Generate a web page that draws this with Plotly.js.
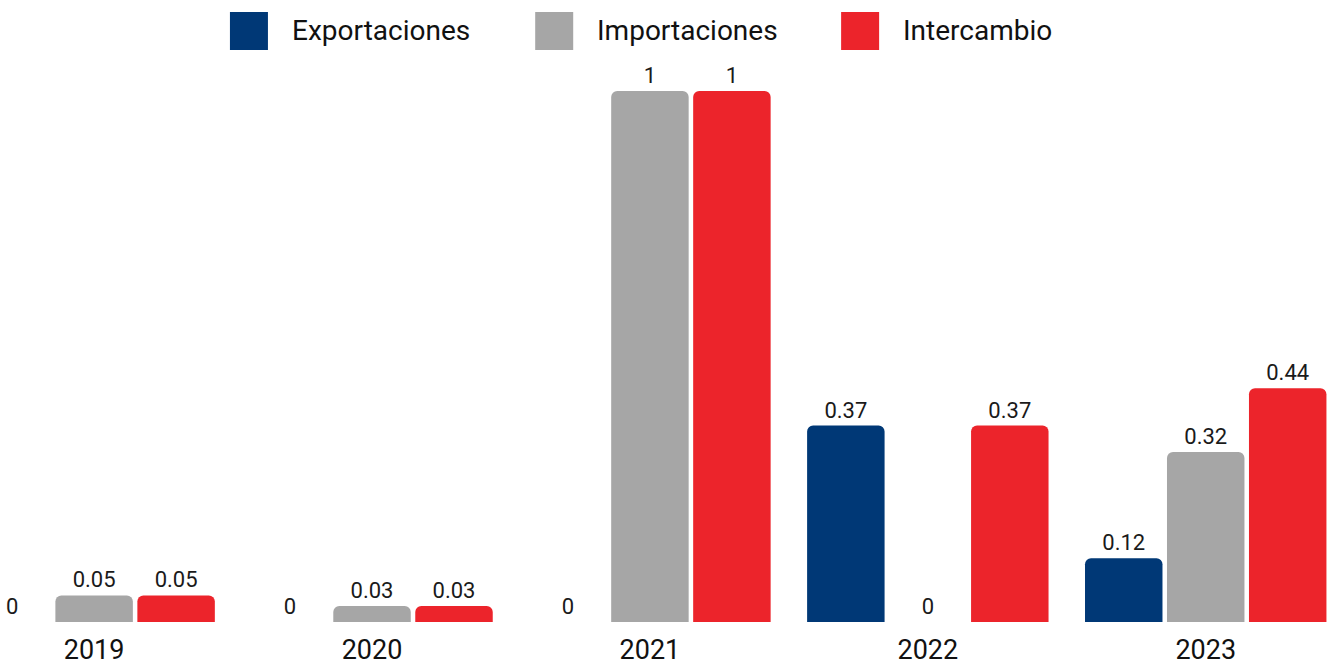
<!DOCTYPE html>
<html>
<head>
<meta charset="utf-8">
<script src="https://cdn.plot.ly/plotly-3.0.1.min.js"></script>
<style>html,body{margin:0;padding:0;background:#fff;}#chart{width:1333px;height:668px;}</style>
</head>
<body>
<div id="chart"></div>
<script>
const years = ['2019', '2020', '2021', '2022', '2023'];
const seriesNames = ['Exportaciones', 'Importaciones', 'Intercambio'];
const exportaciones = [0, 0, 0, 0.37, 0.12];
const importaciones = [0.05, 0.03, 1, 0, 0.32];
const intercambio = [0.05, 0.03, 1, 0.37, 0.44];
const colors = ['#003876', '#a6a6a6', '#ec242b'];

const FONT = 'Roboto, "Liberation Sans", sans-serif';
const seriesValues = [exportaciones, importaciones, intercambio];

const traces = seriesValues.map((vals, i) => ({
  type: 'bar',
  name: seriesNames[i],
  x: years,
  y: vals,
  marker: {color: colors[i], cornerradius: 6},
  texttemplate: '%{y}',
  textposition: 'outside',
  textfont: {family: FONT, size: 22, color: '#1a1a1a'},
  cliponaxis: false,
  showlegend: false,
  hoverinfo: 'x+y+name'
}));

// custom legend with large square swatches
const legendX = [0.1725, 0.4015, 0.631];
const shapes = [];
const annotations = [];
seriesNames.forEach((n, i) => {
  shapes.push({
    type: 'rect', xref: 'paper', yref: 'paper',
    x0: legendX[i], x1: legendX[i] + 38 / 1333,
    y0: 1 + (60 - 50) / 562, y1: 1 + (60 - 12) / 562,
    fillcolor: colors[i], line: {width: 0}
  });
  annotations.push({
    xref: 'paper', yref: 'paper',
    x: legendX[i] + 60 / 1333, y: 1 + (60 - 30) / 562,
    xanchor: 'left', yanchor: 'middle',
    text: n, showarrow: false,
    font: {family: FONT, size: 28, color: '#111'}
  });
});

const layout = {
  width: 1333, height: 668,
  margin: {l: 0, r: 0, t: 60, b: 46, pad: 0},
  paper_bgcolor: '#fff', plot_bgcolor: '#fff',
  barmode: 'group',
  bargap: 0.115,
  bargroupgap: 0.055,
  showlegend: false,
  xaxis: {
    type: 'category',
    range: [-0.3387, 4.458],
    showgrid: false, zeroline: false, showline: false,
    ticks: '',
    ticklabelstandoff: 9,
    tickfont: {family: FONT, size: 27, color: '#111'}
  },
  yaxis: {
    range: [0, 1.0584],
    visible: false,
    showgrid: false, zeroline: false
  },
  shapes: shapes,
  annotations: annotations,
  font: {family: FONT}
};

Plotly.newPlot('chart', traces, layout, {displayModeBar: false, responsive: false});
</script>
</body>
</html>
